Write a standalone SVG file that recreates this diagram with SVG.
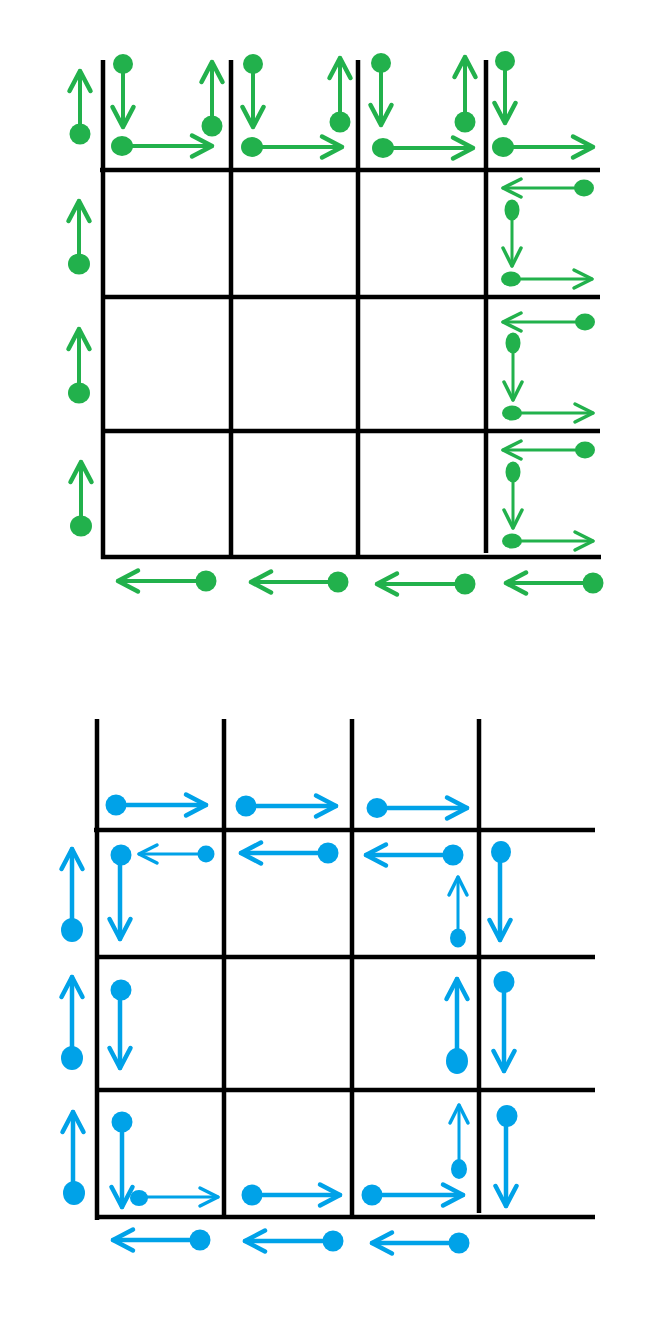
<svg xmlns="http://www.w3.org/2000/svg" width="665" height="1330" viewBox="0 0 665 1330">
<style>
.grid line{stroke:#000;stroke-width:4.5;stroke-linecap:butt}
.g line{stroke:#22b14c;stroke-width:4;stroke-linecap:round;marker-end:url(#mg)}
.g ellipse{fill:#22b14c}
.g .s line,.g line.s{stroke-width:3;marker-end:url(#mgs)}
.b line{stroke:#00a2e8;stroke-width:4.5;stroke-linecap:round;marker-end:url(#mb)}
.b ellipse{fill:#00a2e8}
.b line.s{stroke-width:3;marker-end:url(#mbs)}
</style>
<defs>
<marker id="mg" markerUnits="userSpaceOnUse" markerWidth="30" markerHeight="30" refX="0" refY="0" orient="auto" overflow="visible"><path d="M-20,-10.5 L0,0 L-20,10.5" fill="none" stroke="#22b14c" stroke-width="4.5" stroke-linecap="round" stroke-linejoin="round"/></marker>
<marker id="mgs" markerUnits="userSpaceOnUse" markerWidth="30" markerHeight="30" refX="0" refY="0" orient="auto" overflow="visible"><path d="M-18,-9 L0,0 L-18,9" fill="none" stroke="#22b14c" stroke-width="3.5" stroke-linecap="round" stroke-linejoin="round"/></marker>
<marker id="mb" markerUnits="userSpaceOnUse" markerWidth="30" markerHeight="30" refX="0" refY="0" orient="auto" overflow="visible"><path d="M-20,-10.5 L0,0 L-20,10.5" fill="none" stroke="#00a2e8" stroke-width="4.5" stroke-linecap="round" stroke-linejoin="round"/></marker>
<marker id="mbs" markerUnits="userSpaceOnUse" markerWidth="30" markerHeight="30" refX="0" refY="0" orient="auto" overflow="visible"><path d="M-18,-9 L0,0 L-18,9" fill="none" stroke="#00a2e8" stroke-width="3.5" stroke-linecap="round" stroke-linejoin="round"/></marker>
</defs>
<rect width="665" height="1330" fill="#fff"/>

<g id="green-grid" class="grid">
<line x1="103" y1="60" x2="103" y2="559"/>
<line x1="231" y1="60" x2="231" y2="557"/>
<line x1="358" y1="60" x2="358" y2="557"/>
<line x1="486" y1="60" x2="486" y2="553"/>
<line x1="100" y1="170" x2="600" y2="170"/>
<line x1="103" y1="297" x2="600" y2="297"/>
<line x1="103" y1="431" x2="600" y2="431"/>
<line x1="101" y1="557" x2="601" y2="557"/>
</g>

<g id="green-arrows" class="g">
<g id="g-l1"><line x1="80" y1="134" x2="80" y2="71"/><ellipse cx="80" cy="134" rx="10.5" ry="10.5"/></g>
<g id="g-l2"><line x1="79" y1="264" x2="79" y2="201"/><ellipse cx="79" cy="264" rx="11" ry="10.5"/></g>
<g id="g-l3"><line x1="79" y1="393" x2="79" y2="329"/><ellipse cx="79" cy="393" rx="11" ry="10.5"/></g>
<g id="g-l4"><line x1="81" y1="526" x2="81" y2="462"/><ellipse cx="81" cy="526" rx="11" ry="10.5"/></g>

<g id="g-c1d"><line x1="123" y1="64" x2="123" y2="127"/><ellipse cx="123" cy="64" rx="10" ry="10"/></g>
<g id="g-c1r"><line x1="122" y1="146" x2="212" y2="146"/><ellipse cx="122" cy="146" rx="11" ry="10"/></g>
<g id="g-c1u"><line x1="212" y1="126" x2="212" y2="62"/><ellipse cx="212" cy="126" rx="10.5" ry="10.5"/></g>
<g id="g-c2d"><line x1="253" y1="64" x2="253" y2="127"/><ellipse cx="253" cy="64" rx="10" ry="10"/></g>
<g id="g-c2r"><line x1="252" y1="147" x2="342" y2="147"/><ellipse cx="252" cy="147" rx="11" ry="10"/></g>
<g id="g-c2u"><line x1="340" y1="122" x2="340" y2="58"/><ellipse cx="340" cy="122" rx="10.5" ry="10.5"/></g>
<g id="g-c3d"><line x1="381" y1="63" x2="381" y2="125"/><ellipse cx="381" cy="63" rx="10" ry="10"/></g>
<g id="g-c3r"><line x1="383" y1="148" x2="473" y2="148"/><ellipse cx="383" cy="148" rx="11" ry="10"/></g>
<g id="g-c3u"><line x1="465" y1="122" x2="465" y2="57"/><ellipse cx="465" cy="122" rx="10.5" ry="10.5"/></g>
<g id="g-c4d"><line x1="505" y1="61" x2="505" y2="123"/><ellipse cx="505" cy="61" rx="10" ry="10"/></g>
<g id="g-c4r"><line x1="503" y1="147" x2="593" y2="147"/><ellipse cx="503" cy="147" rx="11" ry="10"/></g>

<g id="g-r2" class="s">
<line x1="583" y1="188" x2="503" y2="188"/><ellipse cx="584" cy="188" rx="10" ry="8.5"/>
<line x1="512" y1="210" x2="512" y2="266"/><ellipse cx="512" cy="210" rx="7.5" ry="10.5"/>
<line x1="511" y1="279" x2="592" y2="279"/><ellipse cx="511" cy="279" rx="10" ry="7.5"/>
</g>
<g id="g-r3" class="s">
<line x1="585" y1="322" x2="503" y2="322"/><ellipse cx="585" cy="322" rx="10" ry="8.5"/>
<line x1="513" y1="343" x2="513" y2="400"/><ellipse cx="513" cy="343" rx="7.5" ry="10.5"/>
<line x1="512" y1="413" x2="593" y2="413"/><ellipse cx="512" cy="413" rx="10" ry="7.5"/>
</g>
<g id="g-r4" class="s">
<line x1="585" y1="450" x2="503" y2="450"/><ellipse cx="585" cy="450" rx="10" ry="8.5"/>
<line x1="513" y1="472" x2="513" y2="528"/><ellipse cx="513" cy="472" rx="7.5" ry="10.5"/>
<line x1="512" y1="541" x2="593" y2="541"/><ellipse cx="512" cy="541" rx="10" ry="7.5"/>
</g>

<g id="g-b1"><line x1="206" y1="581" x2="118" y2="581"/><ellipse cx="206" cy="581" rx="10.5" ry="10.5"/></g>
<g id="g-b2"><line x1="338" y1="582" x2="251" y2="582"/><ellipse cx="338" cy="582" rx="10.5" ry="10.5"/></g>
<g id="g-b3"><line x1="465" y1="584" x2="377" y2="584"/><ellipse cx="465" cy="584" rx="10.5" ry="10.5"/></g>
<g id="g-b4"><line x1="593" y1="583" x2="506" y2="583"/><ellipse cx="593" cy="583" rx="10.5" ry="10.5"/></g>
</g>

<g id="blue-grid" class="grid">
<line x1="97" y1="719" x2="97" y2="1220"/>
<line x1="224" y1="719" x2="224" y2="1218"/>
<line x1="352" y1="719" x2="352" y2="1218"/>
<line x1="479" y1="719" x2="479" y2="1213"/>
<line x1="94" y1="830" x2="595" y2="830"/>
<line x1="97" y1="957" x2="595" y2="957"/>
<line x1="97" y1="1090" x2="595" y2="1090"/>
<line x1="97" y1="1217" x2="595" y2="1217"/>
</g>

<g id="blue-arrows" class="b">
<g id="b-t1"><line x1="116" y1="805" x2="206" y2="805"/><ellipse cx="116" cy="805" rx="10.5" ry="10.5"/></g>
<g id="b-t2"><line x1="246" y1="806" x2="336" y2="806"/><ellipse cx="246" cy="806" rx="10.5" ry="10.5"/></g>
<g id="b-t3"><line x1="377" y1="808" x2="467" y2="808"/><ellipse cx="377" cy="808" rx="10.5" ry="10"/></g>

<g id="b-l2"><line x1="72" y1="930" x2="72" y2="849"/><ellipse cx="72" cy="930" rx="11" ry="12"/></g>
<g id="b-l3"><line x1="72" y1="1058" x2="72" y2="977"/><ellipse cx="72" cy="1058" rx="11" ry="12"/></g>
<g id="b-l4"><line x1="73" y1="1193" x2="73" y2="1112"/><ellipse cx="74" cy="1193" rx="11" ry="12"/></g>

<g id="b-r2c1"><line class="s" x1="206" y1="854" x2="139" y2="854"/><ellipse cx="206" cy="854" rx="8.5" ry="8.5"/><line x1="120" y1="855" x2="120" y2="939"/><ellipse cx="121" cy="855" rx="10.5" ry="10.5"/></g>
<g id="b-r2c2"><line x1="328" y1="853" x2="241" y2="853"/><ellipse cx="328" cy="853" rx="10.5" ry="10.5"/></g>
<g id="b-r2c3"><line x1="453" y1="855" x2="366" y2="855"/><ellipse cx="453" cy="855" rx="10.5" ry="10.5"/><line class="s" x1="458" y1="938" x2="458" y2="877"/><ellipse cx="458" cy="938" rx="8" ry="9.5"/></g>
<g id="b-r2c4"><line x1="500" y1="852" x2="500" y2="940"/><ellipse cx="501" cy="852" rx="10" ry="11"/></g>

<g id="b-r3c1"><line x1="120" y1="990" x2="120" y2="1068"/><ellipse cx="121" cy="990" rx="10.5" ry="10.5"/></g>
<g id="b-r3c3"><line x1="457" y1="1061" x2="457" y2="979"/><ellipse cx="457" cy="1061" rx="11" ry="13"/></g>
<g id="b-r3c4"><line x1="504" y1="982" x2="504" y2="1071"/><ellipse cx="504" cy="982" rx="10.5" ry="11"/></g>

<g id="b-r4c1"><line x1="122" y1="1122" x2="122" y2="1207"/><ellipse cx="122" cy="1122" rx="10.5" ry="10.5"/><line class="s" x1="139" y1="1197" x2="218" y2="1197"/><ellipse cx="139" cy="1198" rx="9" ry="8"/></g>
<g id="b-r4c2"><line x1="252" y1="1195" x2="340" y2="1195"/><ellipse cx="252" cy="1195" rx="10.5" ry="10.5"/></g>
<g id="b-r4c3"><line x1="372" y1="1195" x2="463" y2="1195"/><ellipse cx="372" cy="1195" rx="10.5" ry="10.5"/><line class="s" x1="459" y1="1169" x2="459" y2="1105"/><ellipse cx="459" cy="1169" rx="8" ry="10"/></g>
<g id="b-r4c4"><line x1="506" y1="1116" x2="506" y2="1206"/><ellipse cx="507" cy="1116" rx="10.5" ry="11"/></g>

<g id="b-b1"><line x1="200" y1="1240" x2="113" y2="1240"/><ellipse cx="200" cy="1240" rx="10.5" ry="10.5"/></g>
<g id="b-b2"><line x1="333" y1="1241" x2="245" y2="1241"/><ellipse cx="333" cy="1241" rx="10.5" ry="10.5"/></g>
<g id="b-b3"><line x1="459" y1="1243" x2="372" y2="1243"/><ellipse cx="459" cy="1243" rx="10.5" ry="10.5"/></g>
</g>
</svg>
